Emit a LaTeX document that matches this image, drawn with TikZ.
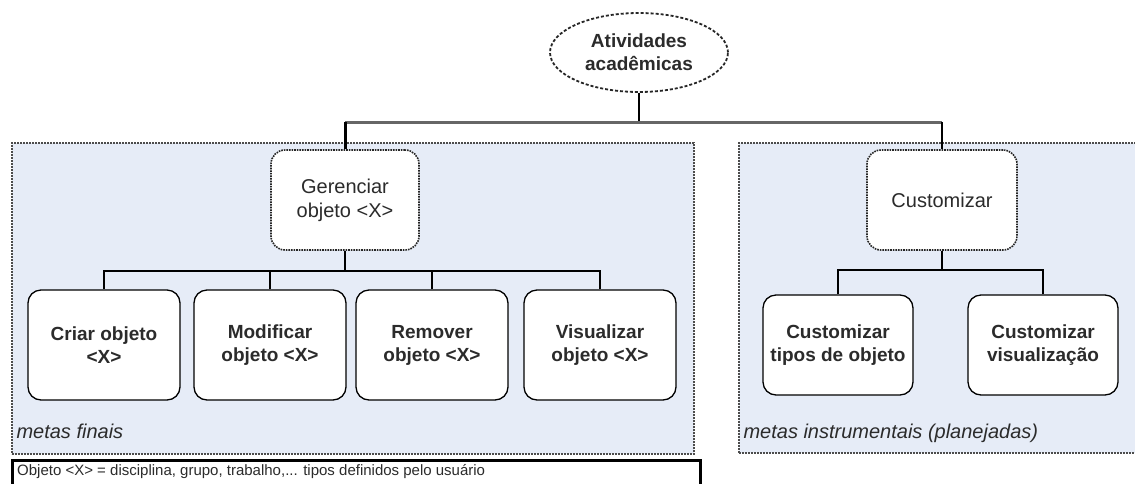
\documentclass[tikz,border=0pt]{standalone}
\usepackage{fontspec}
\setmainfont{Liberation Sans}
\usetikzlibrary{shapes.geometric}
\definecolor{panelfill}{HTML}{E6ECF7}
\definecolor{inkgray}{HTML}{2B2B2B}

\begin{document}
\begin{tikzpicture}[x=1pt,y=-1pt,
  boxtext/.style={font=\fontsize{20}{24}\selectfont, align=center, text=inkgray},
  boldtext/.style={font=\bfseries\fontsize{19}{23}\selectfont, align=center, text=inkgray},
  leafbox/.style={boldtext, draw=black, line width=1.3pt, fill=white,
    rounded corners=13pt, minimum width=152pt, minimum height=110pt, inner sep=0pt},
  rightleaf/.style={leafbox, minimum width=150pt, minimum height=100pt},
  goalbox/.style={boxtext, draw=black!85, line width=1.6pt, densely dotted, fill=white,
    rounded corners=14pt, minimum width=148pt, minimum height=100pt, inner sep=0pt},
  panel/.style={draw=black!70, line width=2pt, densely dotted, fill=panelfill,
    inner sep=0pt, anchor=north west},
  panellabel/.style={anchor=base west, font=\itshape\fontsize{20}{24}\selectfont, text=inkgray},
  branch/.style={draw=black, line width=1.3pt},
]
% canvas
\clip (0,0) rectangle (1135,483);
\fill[white] (0,0) rectangle (1135,483);

% goal groups
\node[panel, minimum width=682pt, minimum height=311pt] (pfin) at (11,142) {};
\node[panel, minimum width=402pt, minimum height=310pt] (pins) at (738,142) {};
\node[panellabel] (lfin) at (13,438) {metas finais};
\node[panellabel] (lins) at (740,438) {metas instrumentais (planejadas)};

% root
\node[ellipse, draw=black!85, line width=1.8pt, densely dashed, fill=white,
  minimum width=178pt, minimum height=79pt, inner sep=0pt, boldtext]
  (root) at (639,52.5) {Atividades\\acadêmicas};

% top-level goals
\node[goalbox] (ger) at (345,200) {Gerenciar\\objeto <X>};
\node[goalbox, minimum width=150pt] (cus) at (942,200) {Customizar};

% final goals
\node[leafbox] (cri) at (104,345) {Criar objeto\\<X>};
\node[leafbox] (mod) at (270,345) {Modificar\\objeto <X>};
\node[leafbox] (rem) at (432,345) {Remover\\objeto <X>};
\node[leafbox] (vis) at (600,345) {Visualizar\\objeto <X>};

% instrumental goals
\node[rightleaf] (ctp) at (838,345) {Customizar\\tipos de objeto};
\node[rightleaf] (cvz) at (1043,345) {Customizar\\visualização};

% legend
\node[draw=black, line width=2.5pt, minimum width=688pt, minimum height=40pt,
  inner sep=0pt, anchor=north west, fill=white] (leg) at (11,459) {};
\node[anchor=west, font=\fontsize{15}{17}\selectfont, text=inkgray, inner sep=0pt]
  (legtext) at (17,472) {Objeto <X> = disciplina, grupo, trabalho,... tipos definidos pelo usuário};

% top connectors
\coordinate (jroot) at (639,122);
\coordinate (jl) at (345,122);
\coordinate (jr) at (942,122);
\draw[line width=2.5pt, black] (root.south) -- (jroot);
\draw[line width=3pt, black!60] (jl) -- (jr);
\draw[line width=3pt, black] (jl) -- (ger.north);
\draw[line width=2pt, black] (jr) -- (cus.north);

% branches below "Gerenciar"
\coordinate (gbus) at (345,271);
\draw[branch] (ger.south) -- (gbus);
\draw[branch] (cri.north) |- (gbus);
\draw[branch] (vis.north) |- (gbus);
\draw[branch] (mod.north) -- (mod.north |- gbus);
\draw[branch] (rem.north) -- (rem.north |- gbus);

% branches below "Customizar"
\coordinate (cbus) at (942,270);
\draw[branch] (cus.south) -- (cbus);
\draw[branch] (ctp.north) |- (cbus);
\draw[branch] (cvz.north) |- (cbus);
\end{tikzpicture}
\end{document}
